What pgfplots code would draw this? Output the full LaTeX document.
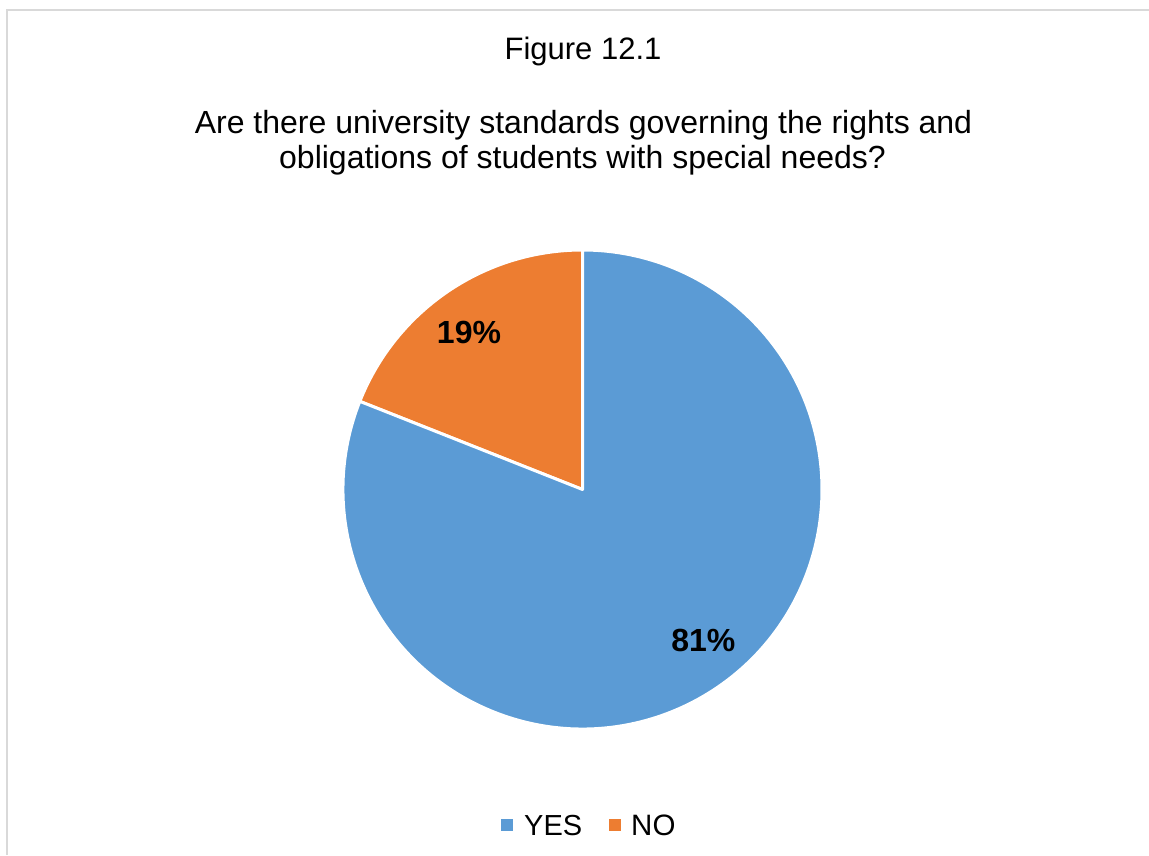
\documentclass[border=0pt]{standalone}
\usepackage{pgfplots}
\pgfplotsset{compat=1.18}
\usepackage{pgfplotstable}
\usepackage{fontspec}
\setmainfont{Liberation Sans}
\definecolor{yesblue}{HTML}{5B9BD5}
\definecolor{noorange}{HTML}{ED7D31}
\definecolor{framegray}{HTML}{D9D9D9}
\pgfplotstableread{
label value
YES 81
NO 19
}\piedata
\begin{document}
\begin{tikzpicture}
\pgfplotstablegetelem{0}{value}\of\piedata \let\yesval\pgfplotsretval
\pgfplotstablegetelem{1}{value}\of\piedata \let\noval\pgfplotsretval
\pgfmathsetmacro{\noend}{90+3.6*\noval}
\pgfmathsetmacro{\yesend}{\noend+3.6*\yesval}
\begin{axis}[width=1149pt,height=855pt,scale only axis,
  xmin=0,xmax=1149,ymin=0,ymax=855,hide axis,clip=false]
% frame
\draw[framegray,line width=2pt] (axis cs:7,0) -- (axis cs:7,844.5) -- (axis cs:1149,844.5);
% slices
\filldraw[fill=noorange,draw=white,line width=3pt,line join=round]
  (axis cs:582.5,365.5) -- ++(90:239.5pt) arc[start angle=90,end angle=\noend,radius=239.5pt] -- cycle;
\filldraw[fill=yesblue,draw=white,line width=3pt,line join=round]
  (axis cs:582.5,365.5) -- ++(\noend:239.5pt) arc[start angle=\noend,end angle=\yesend,radius=239.5pt] -- cycle;
% titles
\node[anchor=base,inner sep=0pt,font=\fontsize{31}{35}\selectfont] at (axis cs:583,795) {Figure 12.1};
\node[anchor=base,inner sep=0pt,font=\fontsize{32}{36}\selectfont] at (axis cs:583.5,721) {Are there university standards governing the rights and};
\node[anchor=base,inner sep=0pt,font=\fontsize{32}{36}\selectfont] at (axis cs:582.5,686) {obligations of students with special needs?};
% data labels
\node[anchor=base,inner sep=0pt,font=\fontsize{32}{36}\selectfont\bfseries] at (axis cs:469,511.7) {\noval\%};
\node[anchor=base,inner sep=0pt,font=\fontsize{32}{36}\selectfont\bfseries] at (axis cs:703.3,203.3) {\yesval\%};
% legend
\fill[yesblue] (axis cs:500.5,24) rectangle (axis cs:512.5,36);
\node[anchor=base west,inner sep=0pt,font=\fontsize{29}{33}\selectfont] at (axis cs:524,20) {YES};
\fill[noorange] (axis cs:609,24) rectangle (axis cs:621,36);
\node[anchor=base west,inner sep=0pt,font=\fontsize{29.5}{33}\selectfont] at (axis cs:631,20) {NO};
\end{axis}
\pgfresetboundingbox
\path (current axis.south west) rectangle (current axis.north east);
\end{tikzpicture}
\end{document}
